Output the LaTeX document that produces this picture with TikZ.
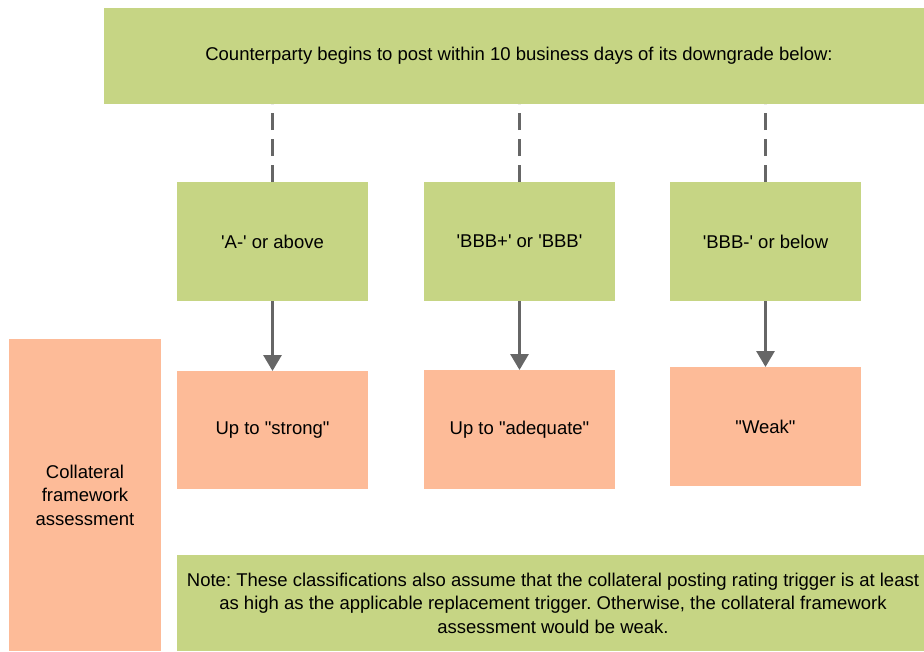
\documentclass[tikz,border=0pt]{standalone}
\usepackage{fontspec}
\setmainfont{Liberation Sans}
\usetikzlibrary{arrows.meta}
\frenchspacing

\definecolor{boxgreen}{RGB}{198,213,132}
\definecolor{boxorange}{RGB}{253,187,152}
\definecolor{linegray}{RGB}{102,102,102}

\newcommand{\sq}{\textquotesingle}
\newcommand{\dq}{\textquotedbl}

\tikzset{
  greenbox/.style={fill=boxgreen, inner sep=0pt, outer sep=0pt, align=center,
    font=\fontsize{18.5}{23.5}\selectfont},
  orangebox/.style={fill=boxorange, inner sep=0pt, outer sep=0pt, align=center,
    font=\fontsize{18.5}{23.5}\selectfont},
  dashline/.style={draw=linegray, line width=3pt, dash pattern=on 17pt off 9pt},
  downarrow/.style={draw=linegray, line width=3pt, -{Triangle[width=18pt,length=16pt]}}
}

\begin{document}
\begin{tikzpicture}[x=1pt,y=-1pt]
				\useasboundingbox (0,0) rectangle (924,651);
				% top banner
				\node[greenbox, minimum width=830pt, minimum height=96pt] (top) at (519,56)
					{Counterparty begins to post within 10 business days of its downgrade below:};
				% rating boxes
				\node[greenbox, minimum width=191pt, minimum height=119pt] (ga) at (272.5,241.5) {\sq A-\sq{} or above};
				\node[greenbox, minimum width=191pt, minimum height=119pt] (gb) at (519.5,241.5) {\sq BBB+\sq{} or \sq BBB\sq};
				\node[greenbox, minimum width=191pt, minimum height=119pt] (gc) at (765.5,241.5) {\sq BBB-\sq{} or below};
				% assessment boxes
				\node[orangebox, minimum width=191pt, minimum height=118pt] (oa) at (272.5,430) {Up to \dq strong\dq};
				\node[orangebox, minimum width=191pt, minimum height=119pt] (ob) at (519.5,429.5) {Up to \dq adequate\dq};
				\node[orangebox, minimum width=191pt, minimum height=119pt] (oc) at (765.5,426.5) {\dq Weak\dq};
				\node[orangebox, minimum width=152pt, minimum height=312pt] (side) at (85,495)
					{Collateral\\framework\\assessment};
				\node[greenbox, minimum width=752pt, minimum height=96pt] (note) at (553,603)
					{Note: These classifications also assume that the collateral posting rating trigger is at least\\
					 as high as the applicable replacement trigger. Otherwise, the collateral framework\\
					 assessment would be weak.};
				% connectors
				\draw[dashline] (ga.north) -- (ga.north |- top.south);
				\draw[dashline] (gb.north) -- (gb.north |- top.south);
				\draw[dashline] (gc.north) -- (gc.north |- top.south);
				\draw[downarrow] (ga.south) -- (oa.north);
				\draw[downarrow] (gb.south) -- (ob.north);
				\draw[downarrow] (gc.south) -- (oc.north);
			\end{tikzpicture}
\end{document}
